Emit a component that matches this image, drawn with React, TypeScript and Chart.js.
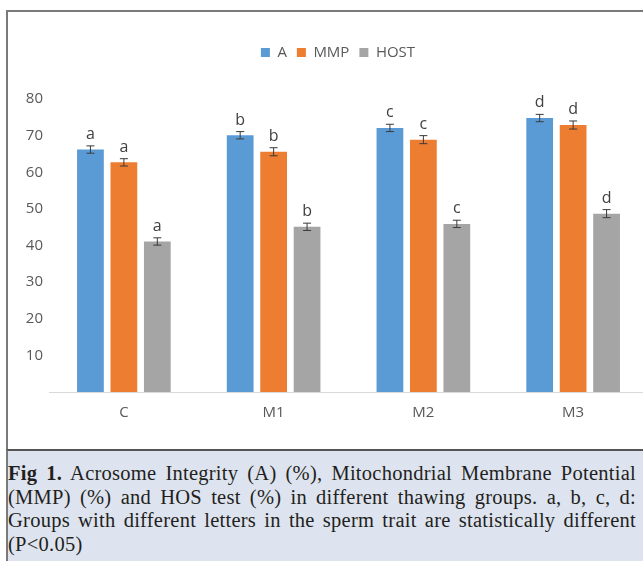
import React, { useEffect, useRef } from "react";
import { Chart, registerables } from "chart.js";

Chart.register(...registerables);

const categories = ["C", "M1", "M2", "M3"];
const seriesNames = ["A", "MMP", "HOST"];
const valuesA = [66.2, 70.1, 72.1, 74.8];
const valuesMMP = [62.7, 65.6, 68.9, 72.9];
const valuesHOST = [41.1, 45.1, 45.9, 48.7];
const errorsA = [1.0, 1.0, 1.0, 1.0];
const errorsMMP = [1.0, 1.1, 1.1, 1.1];
const errorsHOST = [1.0, 1.0, 1.0, 1.1];
const lettersA = ["a", "b", "c", "d"];
const lettersMMP = ["a", "b", "c", "d"];
const lettersHOST = ["a", "b", "c", "d"];
const yTickValues = [10, 20, 30, 40, 50, 60, 70, 80];

const captionLines = [
  "Acrosome Integrity (A) (%), Mitochondrial Membrane Potential",
  "(MMP) (%) and HOS test (%) in different thawing groups. a, b, c, d:",
  "Groups with different letters in the sperm trait are statistically different",
  "(P<0.05)",
];

const COLORS = ["#5B9BD5", "#ED7D31", "#A5A5A5"];
const TEXT = "#595959";

export default function App() {
  const ref = useRef<HTMLCanvasElement | null>(null);

  useEffect(() => {
    document.body.style.margin = "0";
    const canvas = ref.current;
    if (!canvas) return;
    const errs = [errorsA, errorsMMP, errorsHOST];
    const letters = [lettersA, lettersMMP, lettersHOST];

    const legendSpacer = {
      id: "legendSpacer",
      beforeInit(chart: any) {
        const orig = chart.legend.fit;
        chart.legend.fit = function () {
          orig.call(this);
          this.height += 29;
        };
      },
      afterLayout(chart: any) {
        chart.legend.left += 10;
        chart.legend.right += 10;
      },
    };

    const errorBars = {
      id: "errorBars",
      afterDatasetsDraw(chart: any) {
        const ctx = chart.ctx;
        const y = chart.scales.y;
        chart.data.datasets.forEach((ds: any, di: number) => {
          const meta = chart.getDatasetMeta(di);
          meta.data.forEach((bar: any, i: number) => {
            const v = ds.data[i];
            const e = errs[di][i];
            const yt = y.getPixelForValue(v + e);
            const yb = y.getPixelForValue(v - e);
            const x = bar.x;
            ctx.save();
            ctx.strokeStyle = "#3a3a3a";
            ctx.lineWidth = 1;
            ctx.beginPath();
            ctx.moveTo(x, yt);
            ctx.lineTo(x, yb);
            ctx.moveTo(x - 4, yt);
            ctx.lineTo(x + 4, yt);
            ctx.moveTo(x - 4, yb);
            ctx.lineTo(x + 4, yb);
            ctx.stroke();
            ctx.fillStyle = "#404040";
            ctx.font = "16px 'Open Sans'";
            ctx.textAlign = "center";
            ctx.textBaseline = "alphabetic";
            ctx.fillText(letters[di][i], x, yt - 7);
            ctx.restore();
          });
        });
      },
    };

    const chart = new Chart(canvas, {
      type: "bar",
      data: {
        labels: categories,
        datasets: [
          { label: seriesNames[0], data: valuesA, backgroundColor: COLORS[0] },
          { label: seriesNames[1], data: valuesMMP, backgroundColor: COLORS[1] },
          { label: seriesNames[2], data: valuesHOST, backgroundColor: COLORS[2] },
        ],
      },
      options: {
        animation: false,
        responsive: false,
        maintainAspectRatio: false,
        layout: { padding: { top: 23, left: 0, right: 5, bottom: 0 } },
        datasets: {
          bar: { categoryPercentage: 0.67, barPercentage: 0.8 },
        },
        plugins: {
          legend: {
            position: "top",
            labels: {
              boxWidth: 9,
              boxHeight: 9,
              padding: 10,
              color: TEXT,
              font: { family: "'Open Sans'", size: 15 },
            },
          },
          tooltip: { enabled: false },
        },
        scales: {
          x: {
            grid: { display: false, drawTicks: false },
            border: { display: true, color: "#d9d9d9", width: 1 },
            ticks: {
              color: TEXT,
              padding: 12,
              font: { family: "'Open Sans'", size: 15 },
            },
            afterFit(scale: any) {
              scale.height = 57;
            },
          },
          y: {
            min: 0,
            max: 80,
            grid: { display: false, drawTicks: false },
            border: { display: false },
            afterBuildTicks(scale: any) {
              scale.ticks = yTickValues.map((v) => ({ value: v }));
            },
            ticks: {
              color: TEXT,
              padding: 6,
              font: { family: "'Open Sans'", size: 15 },
            },
            afterFit(scale: any) {
              scale.width = 41;
            },
          },
        },
      },
      plugins: [legendSpacer, errorBars],
    });
    return () => chart.destroy();
  }, []);

  return (
    <div
      style={{
        position: "relative",
        width: 643,
        height: 561,
        overflow: "hidden",
        background: "#ffffff",
      }}
    >
      <div
        style={{
          position: "absolute",
          left: 6,
          top: 10,
          width: 660,
          height: 560,
          borderLeft: "2px solid #7a7a7a",
          borderTop: "2px solid #7a7a7a",
          boxSizing: "border-box",
        }}
      />
      <canvas
        ref={ref}
        width={645}
        height={437}
        style={{ position: "absolute", left: 8, top: 12, width: 645, height: 437 }}
      />
      <div
        style={{
          position: "absolute",
          left: 6,
          top: 449,
          width: 660,
          height: 120,
          background: "#dee4ef",
          borderLeft: "2px solid #7a7a7a",
          borderTop: "2px solid #555555",
          boxSizing: "border-box",
        }}
      />
      <div
        style={{
          position: "absolute",
          left: 8,
          top: 462,
          width: 628,
          fontFamily: "'Liberation Serif', 'DejaVu Serif', serif",
          fontSize: 20.5,
          letterSpacing: "0.25px",
          lineHeight: "23.5px",
          color: "#231f20",
        }}
      >
        {captionLines.map((line, i) => (
          <div
            key={i}
            style={{
              textAlign: "justify",
              textAlignLast: i < captionLines.length - 1 ? "justify" : "left",
              whiteSpace: "nowrap",
            }}
          >
            {i === 0 ? (
              <>
                <b>Fig 1.</b> {line}
              </>
            ) : (
              line
            )}
          </div>
        ))}
      </div>
    </div>
  );
}
